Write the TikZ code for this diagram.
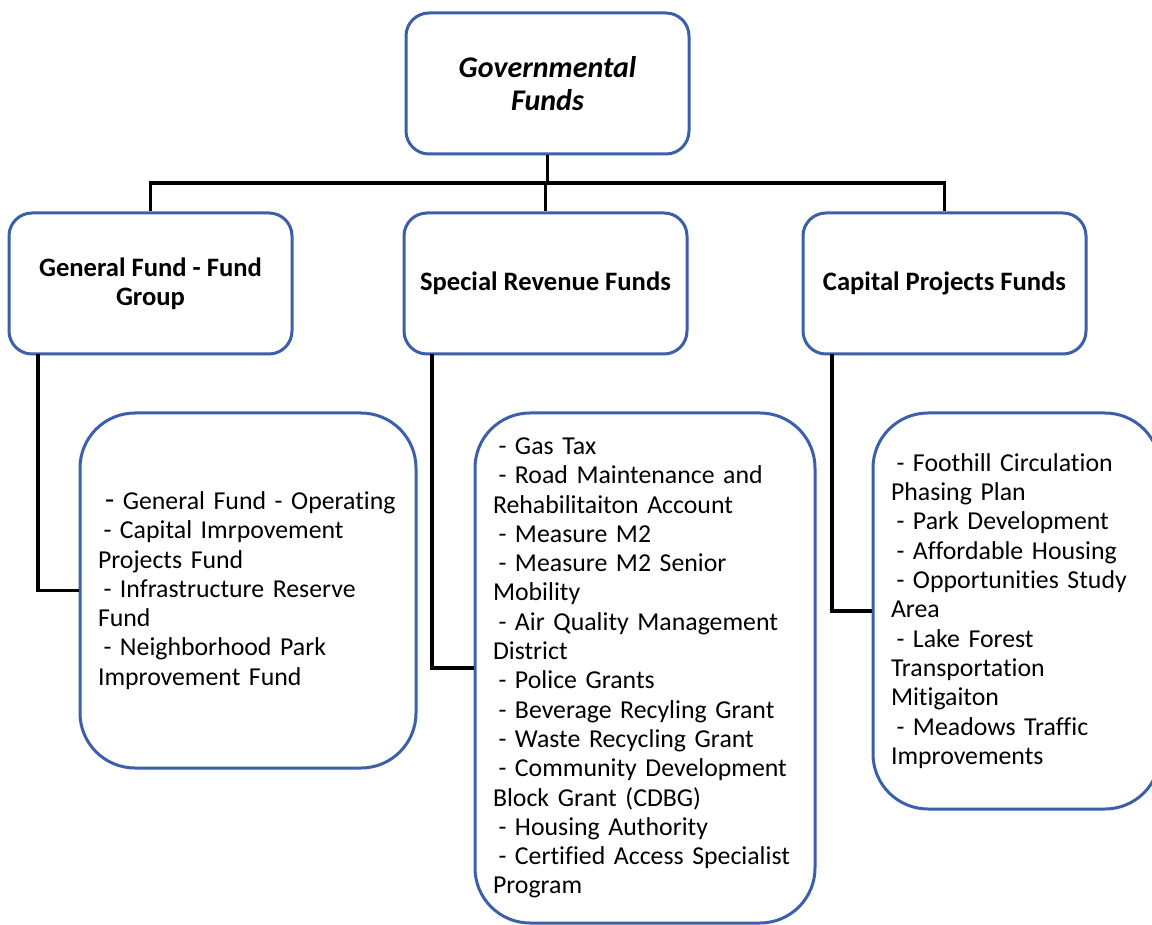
\documentclass[tikz,border=0pt]{standalone}
\usepackage{fontspec}
\setmainfont{Carlito}[Ligatures=NoCommon]
\definecolor{boxblue}{RGB}{59,95,168}
\newcommand{\dd}{\hspace*{5.5pt}}
\begin{document}
\begin{tikzpicture}[x=1pt,y=-1pt,
  hbox/.style={draw=boxblue, line width=3pt, rounded corners=23pt, fill=white,
    align=center, inner sep=0pt, minimum width=283pt, minimum height=141pt},
  detail/.style={draw=boxblue, line width=3pt, rounded corners=55pt, fill=white,
    align=left, inner xsep=18pt, inner ysep=0pt,
    font=\fontsize{25.8}{29.3}\selectfont},
  conn/.style={line width=3.2pt, black}]
\useasboundingbox[fill=white] (0,0) rectangle (1152,925);

\coordinate (bus) at (547.5,183);
\coordinate (gfl) at (38,354);
\coordinate (srl) at (432,354);
\coordinate (cpl) at (832,354);

\node[hbox, font=\fontsize{30}{33}\selectfont\bfseries\itshape] (top) at (547.5,83.5) {Governmental\\Funds};
\node[hbox, font=\fontsize{26.6}{29}\selectfont\bfseries] (gf) at (150.5,283.5) {General Fund - Fund\\Group};
\node[hbox, font=\fontsize{26.6}{29}\selectfont\bfseries] (sr) at (545.5,283.5) {Special Revenue Funds};
\node[hbox, font=\fontsize{26.6}{29}\selectfont\bfseries] (cp) at (944.5,283.5) {Capital Projects Funds};

\node[detail, text width=300pt, minimum height=355pt] (gd) at (248,590.5) {%
\hspace*{7pt}{\fontsize{30}{29.3}\selectfont-} General Fund - Operating\\
\dd- Capital Imrpovement\\
Projects Fund\\
\dd- Infrastructure Reserve\\
Fund\\
\dd- Neighborhood Park\\
Improvement Fund};

\node[detail, text width=304pt, minimum height=510pt] (sd) at (645,668) {%
\dd- Gas Tax\\
\dd- Road Maintenance and\\
Rehabilitaiton Account\\
\dd- Measure M2\\
\dd- Measure M2 Senior\\
Mobility\\
\dd- Air Quality Management\\
District\\
\dd- Police Grants\\
\dd- Beverage Recyling Grant\\
\dd- Waste Recycling Grant\\
\dd- Community Development\\
Block Grant (CDBG)\\
\dd- Housing Authority\\
\dd- Certified Access Specialist\\
Program};

\node[detail, text width=251pt, minimum height=396pt] (cd) at (1016.5,611) {%
\dd- Foothill Circulation\\
Phasing Plan\\
\dd- Park Development\\
\dd- Affordable Housing\\
\dd- Opportunities Study\\
Area\\
\dd- Lake Forest\\
Transportation\\
Mitigaiton\\
\dd- Meadows Traffic\\
Improvements};

\draw[conn] (top.south) -- (bus);
\draw[conn] (bus) -| (gf.north);
\draw[conn] (bus) -| (cp.north);
\draw[conn] (sr.north) -- (sr.north |- bus);
\draw[conn] (gfl) |- (gd.west);
\draw[conn] (srl) |- (sd.west);
\draw[conn] (cpl) |- (cd.west);
\end{tikzpicture}
\end{document}
